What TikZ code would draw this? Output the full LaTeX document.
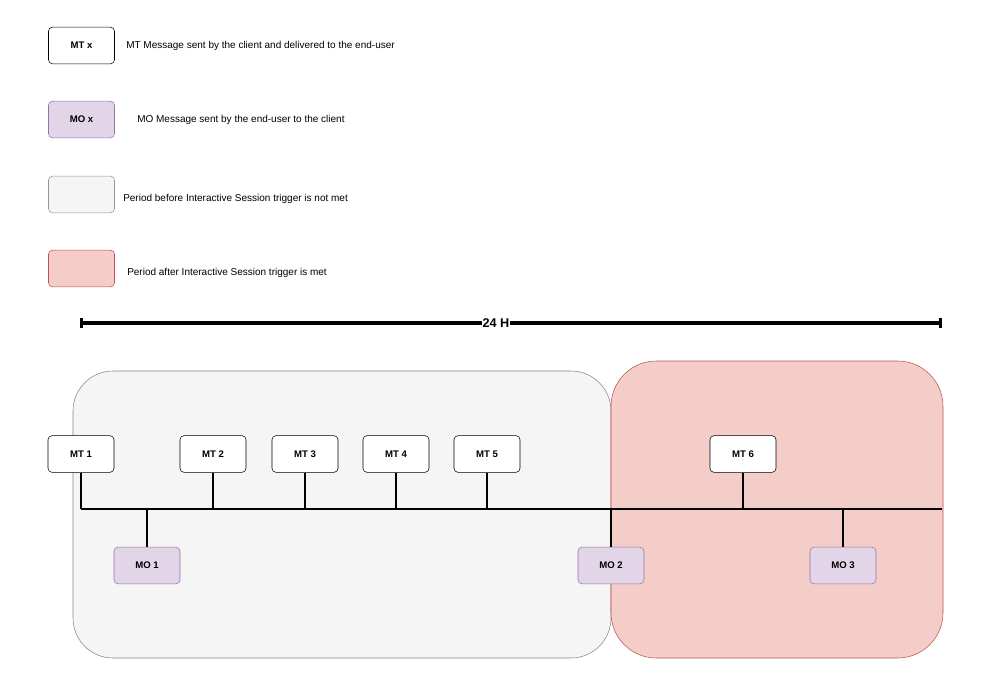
\documentclass[tikz,border=0pt]{standalone}
\usepackage{fontspec}
\setmainfont{Liberation Sans}
\usetikzlibrary{arrows.meta}

\definecolor{mtline}{HTML}{000000}
\definecolor{mofill}{HTML}{E1D5E7}
\definecolor{moline}{HTML}{9673A6}
\definecolor{befill}{HTML}{F5F5F5}
\definecolor{beline}{HTML}{666666}
\definecolor{affill}{HTML}{F4CCC8}
\definecolor{afline}{HTML}{B85450}

\begin{document}
\begin{tikzpicture}[x=0.75pt, y=-0.75pt,
    mtbox/.style={draw=black, fill=white, rounded corners=3pt, minimum width=49.5pt,
        minimum height=27.5pt, font=\fontsize{7.2}{8}\selectfont\bfseries, inner sep=0pt},
    mobox/.style={mtbox, draw=moline, fill=mofill},
    legtext/.style={anchor=west, font=\fontsize{7.5}{8}\selectfont, inner sep=0pt},
    link/.style={line width=1.3pt}]
    \useasboundingbox (0,0) rectangle (1002,681);

    % legend
    \node[mtbox] (legmt) at (81.5,45.5) {MT x};
    \node[legtext] (legmttext) at (126,45.5) {MT Message sent by the client and delivered to the end-user};
    \node[mobox] (legmo) at (81.5,119.5) {MO x};
    \node[legtext] (legmotext) at (137,119.5) {MO Message sent by the end-user to the client};
    \node[mtbox, draw=beline!70, fill=befill] (legbe) at (81.5,194.5) {};
    \node[legtext] (legbetext) at (123,198.5) {Period before Interactive Session trigger is not met};
    \node[mtbox, draw=afline, fill=affill] (legaf) at (81.5,268.5) {};
    \node[legtext] (legaftext) at (127,272.5) {Period after Interactive Session trigger is met};

    % periods
    \draw[draw=beline!80, fill=befill, rounded corners=30pt] (73,371) rectangle (611,658);
    \draw[draw=afline, fill=affill, rounded corners=34pt] (611,361) rectangle (943,658);

    % 24 h scale
    \coordinate (hL) at (80,323);
    \coordinate (hR) at (942,323);
    \draw[{Bar[width=8pt]}-{Bar[width=8pt]}, line width=2.6pt] (hL) -- (hR);
    \node[fill=white, inner sep=0.5pt, font=\fontsize{9.5}{10}\selectfont\bfseries] (hlabel) at (496,323) {24 H};

    % time line
    \coordinate (tlL) at (81,509);
    \coordinate (tlR) at (942,509);
    \draw[link] (tlL) -- (tlR);

    \node[mtbox] (mt1) at (81,454) {MT 1};
    \node[mtbox] (mt2) at (213,454) {MT 2};
    \node[mtbox] (mt3) at (305,454) {MT 3};
    \node[mtbox] (mt4) at (396,454) {MT 4};
    \node[mtbox] (mt5) at (487,454) {MT 5};
    \node[mtbox] (mt6) at (743,454) {MT 6};

    \node[mobox] (mo1) at (147,565.5) {MO 1};
    \node[mobox] (mo2) at (611,565.5) {MO 2};
    \node[mobox] (mo3) at (843,565.5) {MO 3};

    \foreach \m in {mt1,mt2,mt3,mt4,mt5,mt6}
        \draw[link] (\m.south) -- (\m.south |- tlL);
    \foreach \m in {mo1,mo2,mo3}
        \draw[link] (\m.north) -- (\m.north |- tlL);
\end{tikzpicture}
\end{document}
